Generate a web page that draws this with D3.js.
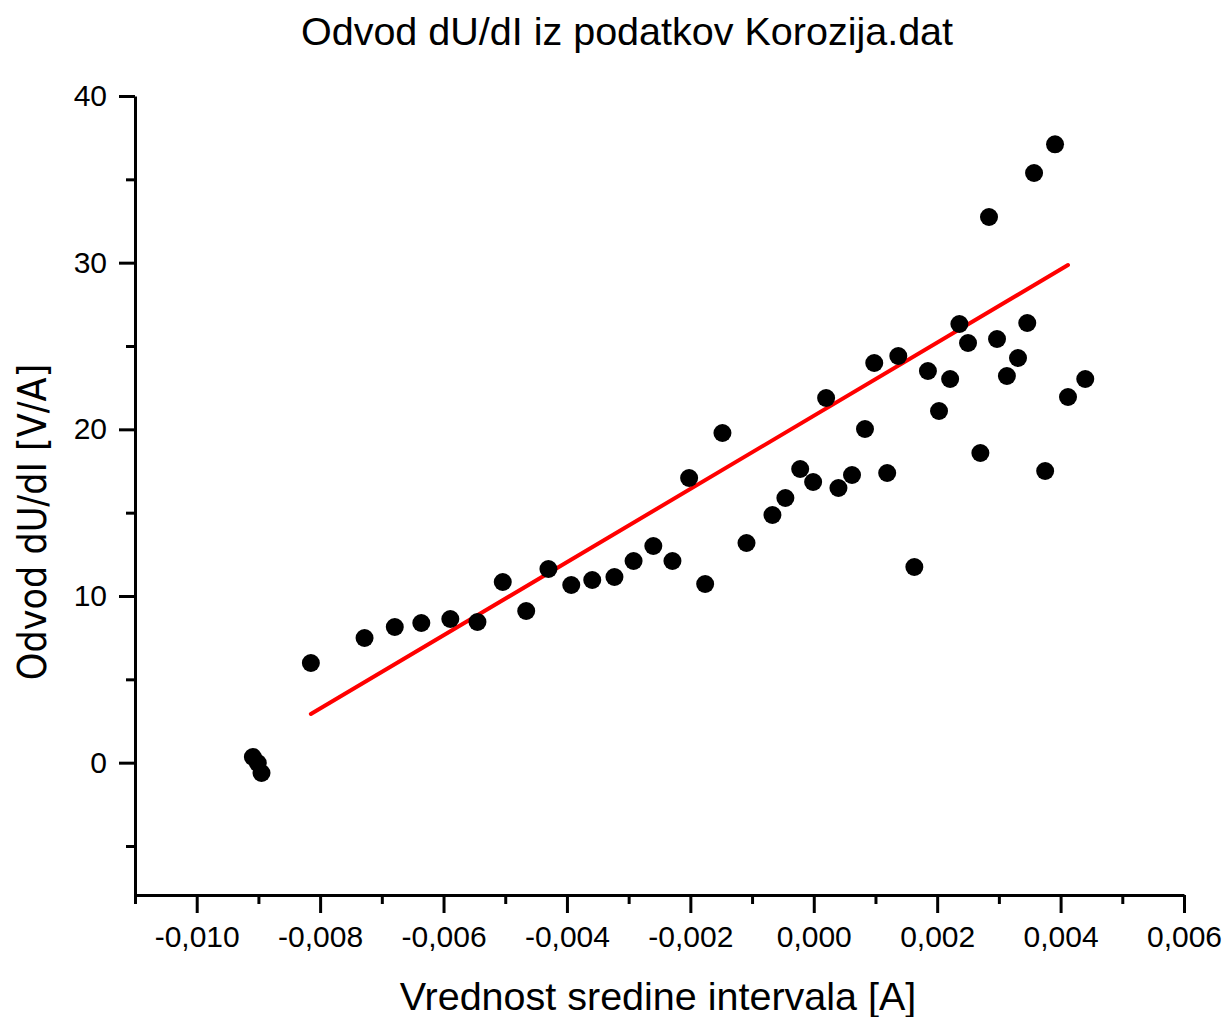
<!DOCTYPE html>
<html>
<head>
<meta charset="utf-8">
<script src="https://cdn.jsdelivr.net/npm/d3@7"></script>
<style>
  body { margin: 0; background: #fff; }
  text { font-family: "Liberation Sans", Arial, sans-serif; fill: #000; }
</style>
</head>
<body>
<div id="graphic"></div>
<script>
// measured points: midpoint of interval [A] and derivative dU/dI [V/A]
var currentA = [-0.00909, -0.00901, -0.00895, -0.00815, -0.00728, -0.00679, -0.00636, -0.00589, -0.00545, -0.00504,
                -0.00466, -0.0043, -0.00393, -0.00359, -0.00323, -0.00292, -0.0026, -0.00229, -0.00202, -0.00176,
                -0.00148, -0.00109, -0.00067, -0.00046, -0.00022, -0.00001, 0.0002, 0.0004, 0.00062, 0.00083,
                0.00098, 0.00119, 0.00137, 0.00163, 0.00185, 0.00203, 0.00221, 0.00236, 0.0025, 0.0027,
                0.00284, 0.00297, 0.00313, 0.00331, 0.00346, 0.00357, 0.00375, 0.00391, 0.00412, 0.0044];
var derivVA = [0.34, -0.02, -0.62, 5.98, 7.48, 8.14, 8.38, 8.62, 8.44, 10.84,
               9.1, 11.62, 10.66, 10.96, 11.14, 12.1, 13.0, 12.1, 17.08, 10.72,
               19.78, 13.18, 14.86, 15.88, 17.62, 16.84, 21.88, 16.48, 17.26, 20.02,
               23.98, 17.38, 24.4, 11.74, 23.5, 21.1, 23.02, 26.32, 25.18, 18.58,
               32.74, 25.42, 23.2, 24.28, 26.38, 35.38, 17.5, 37.1, 21.94, 23.02];

// linear fit (red line) end points
var fitX = [-0.00815, 0.00412];
var fitY = [2.92, 29.86];

var xMajor = [-0.010, -0.008, -0.006, -0.004, -0.002, 0.000, 0.002, 0.004, 0.006];
var xMinor = [-0.011, -0.009, -0.007, -0.005, -0.003, -0.001, 0.001, 0.003, 0.005];
var yMajor = [0, 10, 20, 30, 40];
var yMinor = [-5, 5, 15, 25, 35];

var width = 1222, height = 1017;

var svg = d3.select("#graphic").append("svg")
    .attr("width", width)
    .attr("height", height);

var x = d3.scaleLinear()
    .domain([-0.011, 0.006])
    .range([135, 1184]);

var y = d3.scaleLinear()
    .domain([-8, 40])
    .range([896, 96]);

var loc = d3.formatLocale({decimal: ",", thousands: ".", grouping: [3], currency: ["", ""], minus: "-"});
var fmtX = loc.format(".3f");

// minor ticks first, no labels
svg.append("g")
    .attr("transform", "translate(0,895)")
    .call(d3.axisBottom(x).tickValues(xMinor).tickSize(9).tickFormat(""))
    .call(g => g.select(".domain").remove());

svg.append("g")
    .attr("transform", "translate(135,0)")
    .call(d3.axisLeft(y).tickValues(yMinor).tickSize(9).tickFormat(""))
    .call(g => g.select(".domain").remove());

var gx = svg.append("g")
    .attr("transform", "translate(0,895)")
    .call(d3.axisBottom(x).tickValues(xMajor).tickSize(18).tickSizeOuter(0).tickPadding(13).tickFormat(fmtX));

var gy = svg.append("g")
    .attr("transform", "translate(135,0)")
    .call(d3.axisLeft(y).tickValues(yMajor).tickSize(16).tickSizeOuter(0).tickPadding(12));

svg.selectAll(".tick line, .domain")
    .attr("stroke", "#000")
    .attr("stroke-width", 3);

svg.selectAll(".tick text")
    .style("font-size", "30px")
    .style("font-family", "'Liberation Sans', Arial, sans-serif")
    .attr("fill", "#000");

// fit line
var line = d3.line()
    .x(d => x(d[0]))
    .y(d => y(d[1]));

svg.append("path")
    .datum(fitX.map((v, i) => [v, fitY[i]]))
    .attr("fill", "none")
    .attr("stroke", "#ff0000")
    .attr("stroke-width", 4)
    .attr("stroke-linecap", "round")
    .attr("d", line);

// points
svg.append("g").selectAll("circle")
    .data(currentA.map((v, i) => [v, derivVA[i]]))
    .enter()
    .append("circle")
    .attr("cx", d => x(d[0]))
    .attr("cy", d => y(d[1]))
    .attr("r", 9)
    .attr("fill", "#000");

svg.append("text")
    .attr("x", 627)
    .attr("y", 45)
    .attr("text-anchor", "middle")
    .style("font-size", "39.5px")
    .text("Odvod dU/dI iz podatkov Korozija.dat");

svg.append("text")
    .attr("x", 658)
    .attr("y", 1010)
    .attr("text-anchor", "middle")
    .style("font-size", "39.5px")
    .text("Vrednost sredine intervala [A]");

svg.append("text")
    .attr("transform", "translate(46,522) rotate(-90)")
    .attr("text-anchor", "middle")
    .style("font-family", "'DejaVu Sans Condensed', 'DejaVu Sans', sans-serif")
    .style("font-size", "39px")
    .text("Odvod dU/dI [V/A]");
</script>
</body>
</html>
